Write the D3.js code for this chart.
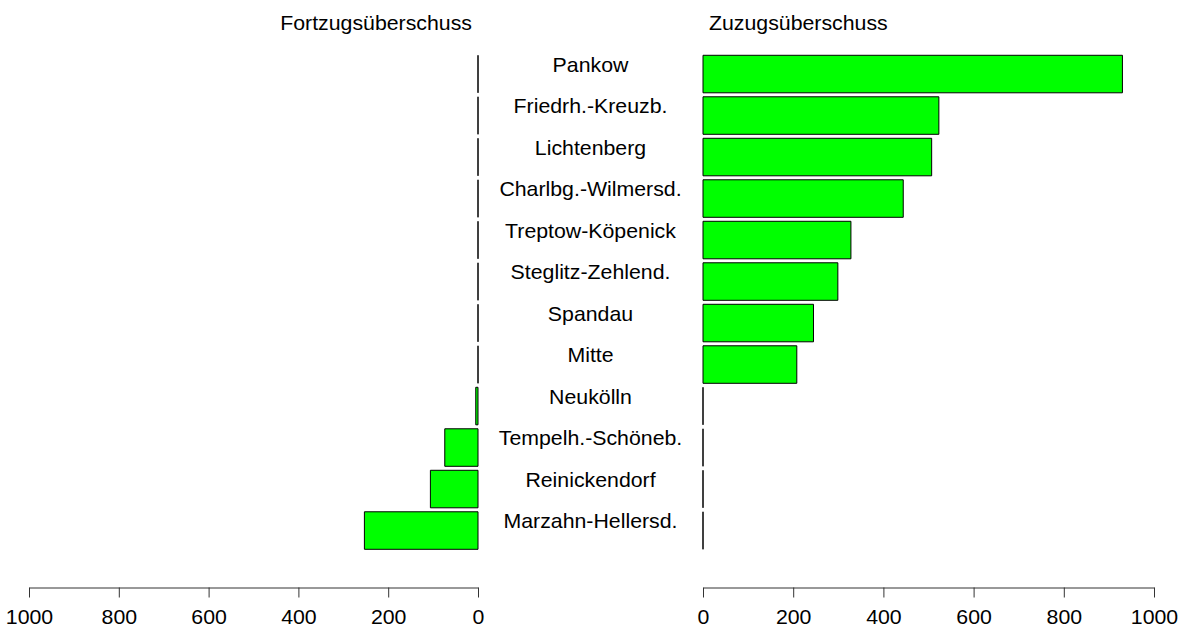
<!DOCTYPE html>
<html>
<head>
<meta charset="utf-8">
<script src="https://cdn.jsdelivr.net/npm/d3@7"></script>
<style>
  body { margin: 0; background: #fff; }
  svg text { font-family: "Liberation Sans", Arial, Helvetica, sans-serif; fill: #000; }
</style>
</head>
<body>
<div id="chart"></div>
<script>
// Bezirke, sortiert wie in der Vorlage (oben nach unten)
const districts = ['Pankow', 'Friedrh.-Kreuzb.', 'Lichtenberg', 'Charlbg.-Wilmersd.',
  'Treptow-Köpenick', 'Steglitz-Zehlend.', 'Spandau', 'Mitte', 'Neukölln',
  'Tempelh.-Schöneb.', 'Reinickendorf', 'Marzahn-Hellersd.'];
const zuzug = [930, 523, 507, 444, 328, 299, 245, 208, 0, 0, 0, 0];
const fortzug = [0, 0, 0, 0, 0, 0, 0, 0, 5, 74, 106, 253];
const tickValues = [0, 200, 400, 600, 800, 1000];
const titles = ['Fortzugsüberschuss', 'Zuzugsüberschuss'];

const width = 1189, height = 628;
const fontSize = 20, stretch = 1.065;

const svg = d3.select('#chart')
  .append('svg')
  .attr('width', width)
  .attr('height', height);

// left panel runs right-to-left, right panel left-to-right
const xLeft = d3.scaleLinear().domain([0, 1000]).range([478, 29]);
const xRight = d3.scaleLinear().domain([0, 1000]).range([703, 1154]);

const y = d3.scaleBand()
  .domain(districts)
  .range([53.3, 551.3])
  .paddingInner(0.096)
  .paddingOuter(0.048);

const rows = districts.map((d, i) => ({ name: d, left: fortzug[i], right: zuzug[i] }));

// bar as path so that zero-width bars still show their outline
function barPath(x, v, name) {
  const x0 = x(0), x1 = x(v), y0 = y(name), y1 = y(name) + y.bandwidth();
  return `M${x0},${y0}H${x1}V${y1}H${x0}Z`;
}

[[xLeft, 'left'], [xRight, 'right']].forEach(([x, key]) => {
  svg.append('g')
    .selectAll('path')
    .data(rows)
    .join('path')
    .attr('d', d => barPath(x, d[key], d.name))
    .attr('fill', '#00ff00')
    .attr('stroke', '#000')
    .attr('stroke-width', 1);
});

// district labels in the middle
svg.append('g')
  .selectAll('text')
  .data(rows)
  .join('text')
  .attr('transform', d => `translate(590.5, ${y(d.name) + y.bandwidth() / 2 - 2.5}) scale(${stretch},1)`)
  .attr('text-anchor', 'middle')
  .style('font-size', fontSize + 'px')
  .text(d => d.name);

// axes
[xLeft, xRight].forEach(x => {
  const g = svg.append('g')
    .attr('transform', 'translate(0, 587.5)')
    .call(d3.axisBottom(x)
      .tickValues(tickValues)
      .tickFormat(d3.format('d'))
      .tickSize(10)
      .tickSizeOuter(0)
      .tickPadding(12));
  g.select('.domain').attr('stroke', '#333');
  g.selectAll('.tick line').attr('stroke', '#333');
  g.selectAll('.tick text')
    .attr('transform', `scale(${stretch},1)`)
    .style('font-size', fontSize + 'px')
    .attr('fill', '#000');
});

// panel titles
svg.append('text')
  .attr('transform', `translate(472, 30) scale(${stretch},1)`)
  .attr('text-anchor', 'end')
  .style('font-size', fontSize + 'px')
  .text(titles[0]);

svg.append('text')
  .attr('transform', `translate(709, 30) scale(${stretch},1)`)
  .attr('text-anchor', 'start')
  .style('font-size', fontSize + 'px')
  .text(titles[1]);
</script>
</body>
</html>
